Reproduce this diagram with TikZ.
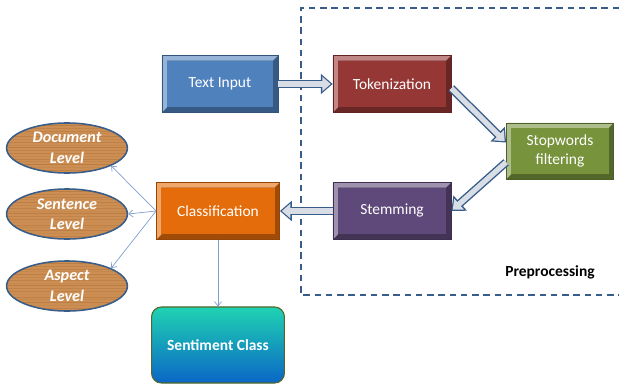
\documentclass[tikz,border=0pt]{standalone}
\usepackage{fontspec}
\setmainfont{Carlito}
\usetikzlibrary{arrows.meta,shapes.geometric}

\definecolor{tiblue}{HTML}{4F81BD}
\definecolor{tokred}{HTML}{953735}
\definecolor{stopgreen}{HTML}{77933C}
\definecolor{stempurple}{HTML}{5F497A}
\definecolor{clsorange}{HTML}{E46C0A}
\definecolor{edgeblue}{HTML}{385D8A}
\definecolor{shaftgray}{HTML}{D9DEE6}
\definecolor{thinblue}{HTML}{7F9FCF}
\definecolor{wood}{HTML}{CC8E52}
\definecolor{wooddark}{HTML}{A06632}
\definecolor{sentitop}{HTML}{1FD3B2}
\definecolor{sentimid}{HTML}{22C6DE}
\definecolor{sentibot}{HTML}{0A66C6}

\tikzset{
  stage/.style={minimum width=2.95cm, minimum height=1.42cm, inner sep=0pt,
    text=white, align=center, font=\fontsize{11}{14}\selectfont,
    draw=#1!65!black, line width=0.4pt,
    path picture={
      \fill[#1!70!black] (path picture bounding box.north west) rectangle (path picture bounding box.south east);
      \fill[#1!60!white] (path picture bounding box.north west) -- (path picture bounding box.north east)
        -- ([shift={(-3.5pt,-3.5pt)}]path picture bounding box.north east)
        -- ([shift={(3.5pt,-3.5pt)}]path picture bounding box.north west)
        -- ([shift={(3.5pt,3.5pt)}]path picture bounding box.south west)
        -- (path picture bounding box.south west) -- cycle;
      \fill[#1] ([shift={(3.5pt,-3.5pt)}]path picture bounding box.north west) rectangle ([shift={(-3.5pt,3.5pt)}]path picture bounding box.south east);
    }},
  level/.style={ellipse, minimum width=3.02cm, minimum height=1.25cm, inner sep=0pt,
    fill=wood, draw=edgeblue, line width=1.1pt, text=white, align=center,
    font=\fontsize{11.5}{14.5}\selectfont\bfseries\itshape,
    path picture={
      \foreach \k/\o in {1/0.3,2/0.15,3/0.4,4/0.2,5/0.35,6/0.1,7/0.3,8/0.25,9/0.4,10/0.15,11/0.3,12/0.2,13/0.35,14/0.15,15/0.3,16/0.25,17/0.4,18/0.2} {
        \draw[wooddark, line width=0.4pt, opacity=\o]
          ([yshift=\k*2pt]path picture bounding box.south west) -- ([yshift=\k*2pt]path picture bounding box.south east);
      }
    }},
  fatarrow/.style={line width=3.8pt, draw=shaftgray, shorten >=1.4pt,
    -{Triangle[length=6pt,width=10pt]},
    preaction={draw=edgeblue, line width=5.8pt, shorten >=0pt, -{Triangle[length=8.5pt,width=14pt]}}},
  thinarrow/.style={draw=thinblue, line width=0.5pt, -{Straight Barb[length=3pt,width=5pt]}},
}

\begin{document}
\begin{tikzpicture}[x=0.025cm, y=-0.025cm]
  \useasboundingbox (0,0) rectangle (620,388);

  % preprocessing frame
  \draw[edgeblue, line width=1pt, dash pattern=on 4.5pt off 3.5pt]
    (619,8) -- (301,8) -- (301,295) -- (619,295);
  \node[font=\fontsize{11}{13}\selectfont\bfseries] (prep) at (550,272) {Preprocessing};

  % pipeline stages
  \node[stage=tiblue, minimum width=2.9cm] (input) at (220,84) {Text Input};
  \node[stage=tokred] (token) at (392,84) {Tokenization};
  \node[stage=stopgreen, minimum width=2.68cm, minimum height=1.4cm] (stop) at (560,151) {Stopwords\\filtering};
  \node[stage=stempurple] (stem) at (392,211) {Stemming};
  \node[stage=clsorange, minimum width=3.08cm] (class) at (218,211) {Classification};

  % result
  \node[minimum width=3.32cm, minimum height=1.9cm, rounded corners=7pt,
        draw=stopgreen!70!black, line width=0.8pt,
        top color=sentitop, middle color=sentimid, bottom color=sentibot,
        text=white, font=\fontsize{11}{13}\selectfont\bfseries] (senti) at (218,345) {Sentiment Class};

  % levels
  \node[level] (doc) at (67,148) {Document\\Level};
  \node[level] (sent) at (67,214) {Sentence\\Level};
  \node[level] (asp) at (67,286) {Aspect\\Level};

  % fat arrows
  \draw[fatarrow] (input.east) -- (token.west);
  \draw[fatarrow] ([yshift=-3pt]token.east) -- ([yshift=6pt]stop.west);
  \draw[fatarrow] ([yshift=-8pt]stop.west) -- (stem.east);
  \draw[fatarrow] (stem.west) -- (class.east);

  % thin arrows
  \draw[thinarrow] (class.west) -- (doc.-22);
  \draw[thinarrow] (class.west) -- (sent.east);
  \draw[thinarrow] (class.west) -- (asp.22);
  \draw[thinarrow] (class.south) -- (senti.north);
\end{tikzpicture}
\end{document}
